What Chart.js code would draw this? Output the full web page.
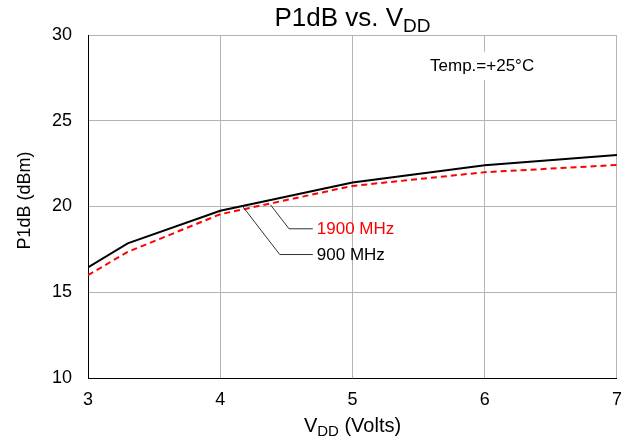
<!DOCTYPE html>
<html>
<head>
<meta charset="utf-8">
<script src="https://cdn.jsdelivr.net/npm/chart.js@4"></script>
<style>
  html, body { margin: 0; padding: 0; background: #fff; }
  #wrap { width: 633px; height: 444px; }
</style>
</head>
<body>
<div id="wrap"><canvas id="p1db"></canvas></div>
<script>
const vdd = [3, 3.3, 4, 5, 6, 7];
const p1db900 = [16.45, 17.85, 19.75, 21.4, 22.4, 23.0];
const p1db1900 = [16.0, 17.35, 19.55, 21.2, 22.0, 22.42];
const xTicks = [3, 4, 5, 6, 7];
const yTicks = [10, 15, 20, 25, 30];

const FONT = '"Liberation Sans", Arial, sans-serif';

// leader lines for the series labels, in data units
const callouts = [
    { text: '1900 MHz', color: '#ff0000', pts: [[4.38, 20.1], [4.52, 18.7], [4.70, 18.7]] },
    { text: '900 MHz', color: '#000000', pts: [[4.17, 20.0], [4.45, 17.2], [4.70, 17.2]] },
];

function toPts(xs, ys) {
    return xs.map((x, i) => ({ x: x, y: ys[i] }));
}

// text with a subscripted part, centred on cx
function drawSub(ctx, main, sub, after, cx, baseline, size, subSize, drop) {
    ctx.font = size + 'px ' + FONT;
    const w1 = ctx.measureText(main).width;
    const w3 = ctx.measureText(after).width;
    ctx.font = subSize + 'px ' + FONT;
    const w2 = ctx.measureText(sub).width;
    let x = cx - (w1 + w2 + w3) / 2;
    ctx.textAlign = 'left';
    ctx.textBaseline = 'alphabetic';
    ctx.font = size + 'px ' + FONT;
    ctx.fillText(main, x, baseline);
    x += w1;
    ctx.font = subSize + 'px ' + FONT;
    ctx.fillText(sub, x, baseline + drop);
    x += w2;
    ctx.font = size + 'px ' + FONT;
    if (after) ctx.fillText(after, x, baseline);
}

const decor = {
    id: 'decor',
    afterDatasetsDraw(chart) {
        const ctx = chart.ctx;
        const xs = chart.scales.x, ys = chart.scales.y;
        const area = chart.chartArea;
        ctx.save();

        // temperature note in a white box
        const tx = xs.getPixelForValue(5.98), ty = ys.getPixelForValue(28.2);
        ctx.fillStyle = '#ffffff';
        ctx.fillRect(tx - 60, ty - 14, 120, 28);
        ctx.fillStyle = '#000';
        ctx.font = '17px ' + FONT;
        ctx.textAlign = 'center';
        ctx.textBaseline = 'middle';
        ctx.fillText('Temp.=+25°C', tx, ty);

        // callouts
        callouts.forEach((c) => {
            ctx.strokeStyle = '#333';
            ctx.lineWidth = 1;
            ctx.beginPath();
            c.pts.forEach((p, i) => {
                const px = xs.getPixelForValue(p[0]), py = ys.getPixelForValue(p[1]);
                if (i === 0) ctx.moveTo(px, py); else ctx.lineTo(px, py);
            });
            ctx.stroke();
            const last = c.pts[c.pts.length - 1];
            ctx.fillStyle = c.color;
            ctx.font = '17px ' + FONT;
            ctx.textAlign = 'left';
            ctx.textBaseline = 'middle';
            ctx.fillText(c.text, xs.getPixelForValue(last[0]) + 4, ys.getPixelForValue(last[1]) + 1);
        });

        // titles with subscripts
        ctx.fillStyle = '#000';
        const cx = (area.left + area.right) / 2;
        drawSub(ctx, 'P1dB vs. V', 'DD', '', cx, 26, 26, 19, 6);
        drawSub(ctx, 'V', 'DD', ' (Volts)', cx, 432, 20, 15, 4);

        ctx.translate(30, (area.top + area.bottom) / 2 - 6);
        ctx.rotate(-Math.PI / 2);
        ctx.font = '18px ' + FONT;
        ctx.textAlign = 'center';
        ctx.textBaseline = 'alphabetic';
        ctx.fillText('P1dB (dBm)', 0, 0);
        ctx.restore();
    }
};

new Chart(document.getElementById('p1db'), {
    type: 'line',
    data: {
        datasets: [
            {
                label: '900 MHz',
                data: toPts(vdd, p1db900),
                borderColor: '#000000',
                borderWidth: 2,
                pointRadius: 0,
                tension: 0,
            },
            {
                label: '1900 MHz',
                data: toPts(vdd, p1db1900),
                borderColor: '#ff0000',
                borderWidth: 2,
                borderDash: [6, 4],
                pointRadius: 0,
                tension: 0,
            },
        ],
    },
    options: {
        responsive: true,
        maintainAspectRatio: false,
        animation: false,
        layout: { padding: { left: 0, right: 16, top: 35, bottom: 0 } },
        plugins: {
            legend: { display: false },
            tooltip: { enabled: false },
        },
        scales: {
            x: {
                type: 'linear',
                min: 3,
                max: 7,
                afterBuildTicks: (s) => { s.ticks = xTicks.map((v) => ({ value: v })); },
                afterFit: (s) => { s.height = 66; },
                ticks: { color: '#000', font: { family: FONT, size: 18 }, padding: 11 },
                grid: { color: '#b4b4b4', lineWidth: 1, drawTicks: false },
                border: { color: '#000', width: 1 },
            },
            y: {
                min: 10,
                max: 30,
                afterBuildTicks: (s) => { s.ticks = yTicks.map((v) => ({ value: v })); },
                afterFit: (s) => { s.width = 88; },
                ticks: { color: '#000', font: { family: FONT, size: 18 }, padding: 16 },
                grid: { color: '#b4b4b4', lineWidth: 1, drawTicks: false },
                border: { color: '#000', width: 1 },
            },
        },
    },
    plugins: [decor],
});
</script>
</body>
</html>
